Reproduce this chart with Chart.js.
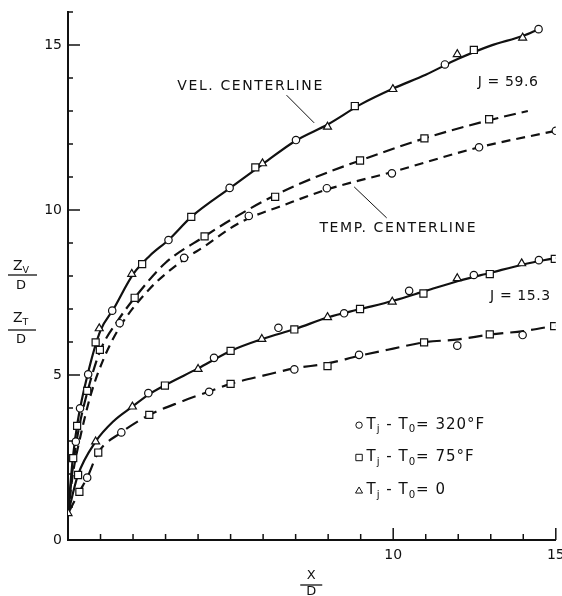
<!DOCTYPE html>
<html>
<head>
<meta charset="utf-8">
<script src="https://cdn.jsdelivr.net/npm/chart.js@4.4.0/dist/chart.umd.min.js"></script>
<style>
  html, body { margin: 0; padding: 0; background: #fff; }
  #wrap { width: 562px; height: 596px; position: relative; }
</style>
</head>
<body>
<div id="wrap"><canvas id="chart"></canvas></div>
<script>
// faired curves (x/D, z/D)
const velHiX = [0, 0.15, 0.3, 0.6, 1.0, 1.4, 2.0, 2.5, 3.1, 3.8, 5.0, 6.0, 7.0, 8.0, 9.0, 10.0, 11.0, 12.0, 13.0, 14.0, 14.47];
const velHiY = [0.8, 2.5, 3.6, 5.0, 6.35, 7.0, 8.05, 8.6, 9.1, 9.8, 10.68, 11.4, 12.1, 12.6, 13.2, 13.68, 14.1, 14.58, 14.98, 15.28, 15.48];
const temp75HiX = [0, 0.15, 0.3, 0.6, 1.0, 1.5, 2.05, 3.0, 4.2, 5.0, 6.37, 7.5, 8.98, 10.96, 12.95, 14.14];
const temp75HiY = [0.8, 2.2, 3.2, 4.5, 5.76, 6.6, 7.34, 8.4, 9.2, 9.7, 10.45, 10.95, 11.5, 12.17, 12.72, 13.0];
const temp320HiX = [0, 0.15, 0.35, 0.7, 1.1, 1.59, 2.5, 3.57, 4.2, 5.0, 5.56, 6.5, 7.96, 9.96, 12.64, 15.0];
const temp320HiY = [0.8, 2.0, 3.0, 4.4, 5.5, 6.45, 7.6, 8.5, 8.9, 9.45, 9.75, 10.1, 10.62, 11.15, 11.9, 12.4];
const velLoX = [0, 0.3, 0.85, 1.4, 1.98, 2.5, 3.0, 4.0, 5.0, 6.0, 7.0, 8.0, 9.0, 10.0, 11.0, 12.0, 13.0, 14.0, 15.0];
const velLoY = [0.8, 1.95, 2.98, 3.6, 4.04, 4.42, 4.7, 5.2, 5.73, 6.1, 6.4, 6.75, 7.0, 7.25, 7.55, 7.85, 8.1, 8.35, 8.55];
const tempLoX = [0, 0.35, 0.59, 0.93, 1.64, 2.5, 3.5, 4.34, 5.0, 6.0, 6.96, 7.98, 8.95, 10.0, 10.95, 12.0, 13.0, 14.0, 15.0];
const tempLoY = [0.8, 1.46, 1.89, 2.65, 3.26, 3.79, 4.2, 4.5, 4.73, 4.98, 5.2, 5.35, 5.58, 5.8, 5.99, 6.08, 6.23, 6.33, 6.5];

// measured points, by symbol
const circleX = [0.24, 0.37, 0.62, 1.36, 3.09, 4.97, 7.01, 11.59, 14.47,
                 1.59, 3.57, 5.56, 7.96, 9.96, 12.64, 15.0,
                 2.47, 4.49, 6.47, 8.49, 10.49, 12.48, 14.48,
                 0.59, 1.64, 4.34, 6.96, 8.95, 11.97, 13.98];
const circleY = [2.98, 3.99, 5.02, 6.95, 9.09, 10.67, 12.12, 14.41, 15.48,
                 6.57, 8.55, 9.82, 10.66, 11.11, 11.9, 12.4,
                 4.45, 5.52, 6.43, 6.87, 7.55, 8.03, 8.48,
                 1.89, 3.26, 4.49, 5.17, 5.61, 5.89, 6.21];
const squareX = [0.16, 0.28, 0.85, 2.28, 3.79, 5.76, 8.82, 12.48,
                 0.59, 0.98, 2.05, 4.2, 6.37, 8.98, 10.96, 12.95,
                 0.31, 2.98, 5.0, 6.96, 8.98, 10.93, 12.97, 14.97,
                 0.35, 0.93, 2.5, 5.0, 7.98, 10.95, 12.97, 14.95];
const squareY = [2.48, 3.46, 5.99, 8.36, 9.79, 11.29, 13.15, 14.85,
                 4.52, 5.76, 7.34, 9.2, 10.4, 11.5, 12.17, 12.75,
                 1.97, 4.68, 5.73, 6.38, 7.0, 7.47, 8.06, 8.52,
                 1.46, 2.65, 3.79, 4.73, 5.27, 5.99, 6.23, 6.48];
const triangleX = [0.96, 1.96, 5.98, 7.98, 9.99, 11.97, 13.98,
                   0, 0.85, 1.98, 4.0, 5.96, 7.98, 9.97, 11.97, 13.95];
const triangleY = [6.41, 8.06, 11.41, 12.52, 13.66, 14.72, 15.22,
                   0.81, 2.98, 4.04, 5.18, 6.09, 6.75, 7.22, 7.93, 8.38];

const yLabels = [0, 5, 10, 15];
const xLabels = [10, 15];

const FONT = '"DejaVu Sans", sans-serif';
const INK = '#111';

function pts(xs, ys) {
    return xs.map((x, i) => ({ x: x, y: ys[i] }));
}

function curve(xs, ys, dash) {
    return {
        type: 'line',
        data: pts(xs, ys),
        borderColor: INK,
        borderWidth: 2.2,
        borderDash: dash,
        pointRadius: 0,
        fill: false,
        cubicInterpolationMode: 'monotone',
        order: 2
    };
}

function marks(xs, ys, style, r) {
    return {
        type: 'scatter',
        data: pts(xs, ys),
        pointStyle: style,
        pointRadius: r,
        pointBackgroundColor: '#fff',
        pointBorderColor: INK,
        pointBorderWidth: 1.2,
        showLine: false,
        order: 1
    };
}

// little helpers for the hand-lettered annotations
function richText(ctx, parts, x, y, size) {
    let cx = x;
    parts.forEach(p => {
        const s = p[1] ? size * 0.68 : size;
        ctx.font = s + 'px ' + FONT;
        ctx.fillText(p[0], cx, p[1] ? y + size * 0.3 : y);
        cx += ctx.measureText(p[0]).width;
    });
    return cx - x;
}

function symbol(ctx, style, x, y, r) {
    ctx.beginPath();
    if (style === 'circle') {
        ctx.arc(x, y, r, 0, Math.PI * 2);
    } else if (style === 'rect') {
        ctx.rect(x - r, y - r, 2 * r, 2 * r);
    } else {
        ctx.moveTo(x, y - r * 1.1);
        ctx.lineTo(x + r * 1.1, y + r * 0.8);
        ctx.lineTo(x - r * 1.1, y + r * 0.8);
        ctx.closePath();
    }
    ctx.fillStyle = '#fff';
    ctx.fill();
    ctx.stroke();
}

// kill the label overhang padding so the plot box matches the figure
function noPad(s) {
    s.paddingLeft = 0;
    s.paddingRight = 0;
    s.paddingTop = 0;
    s.paddingBottom = 0;
}

const decor = {
    id: 'decor',
    afterDatasetsDraw(chart) {
        const ctx = chart.ctx;
        const xs = chart.scales.x;
        const ys = chart.scales.y;
        const area = chart.chartArea;
        const px = v => xs.getPixelForValue(v);
        const py = v => ys.getPixelForValue(v);

        ctx.save();
        ctx.strokeStyle = INK;
        ctx.fillStyle = INK;

        // inside tick marks
        ctx.lineWidth = 1.5;
        for (let v = 0; v <= 16; v++) {
            const len = v % 5 === 0 ? 12 : 5;
            ctx.beginPath();
            ctx.moveTo(area.left, py(v));
            ctx.lineTo(area.left + len, py(v));
            ctx.stroke();
        }
        for (let v = 1; v <= 15; v++) {
            const len = v % 5 === 0 && v !== 5 ? 12 : 6;
            ctx.beginPath();
            ctx.moveTo(px(v), area.bottom);
            ctx.lineTo(px(v), area.bottom - len);
            ctx.stroke();
        }

        // curve labels
        ctx.textBaseline = 'middle';
        ctx.textAlign = 'left';
        ctx.font = '14px ' + FONT;
        ctx.letterSpacing = '1.6px';
        ctx.fillText('VEL. CENTERLINE', px(3.36), py(13.76));
        ctx.fillText('TEMP. CENTERLINE', px(7.73), py(9.45));
        ctx.letterSpacing = '0.6px';
        ctx.fillText('J = 59.6', px(12.6), py(13.88));
        ctx.fillText('J = 15.3', px(12.98), py(7.39));
        ctx.letterSpacing = '0px';

        // leader lines
        ctx.lineWidth = 1;
        ctx.beginPath();
        ctx.moveTo(px(6.72), py(13.48));
        ctx.lineTo(px(7.57), py(12.64));
        ctx.moveTo(px(8.8), py(10.7));
        ctx.lineTo(px(9.8), py(9.76));
        ctx.stroke();

        // key
        const keyRows = [
            ['circle', 3.48, [['T', 0], ['j', 1], [' - T', 0], ['0', 1], ['= 320°F', 0]]],
            ['rect', 2.5, [['T', 0], ['j', 1], [' - T', 0], ['0', 1], ['= 75°F', 0]]],
            ['triangle', 1.5, [['T', 0], ['j', 1], [' - T', 0], ['0', 1], ['= 0', 0]]]
        ];
        keyRows.forEach(row => {
            ctx.lineWidth = 1;
            symbol(ctx, row[0], px(8.95), py(row[1]), 3.2);
            ctx.fillStyle = INK;
            ctx.letterSpacing = '1px';
            richText(ctx, row[2], px(9.18), py(row[1]), 15);
            ctx.letterSpacing = '0px';
        });

        // axis titles as stacked fractions
        ctx.lineWidth = 1.3;
        ctx.textAlign = 'left';
        ctx.fillStyle = INK;
        richText(ctx, [['Z', 0], ['V', 1]], 13, 266, 14);
        ctx.beginPath(); ctx.moveTo(8, 275); ctx.lineTo(37, 275); ctx.stroke();
        ctx.font = '13px ' + FONT;
        ctx.fillText('D', 16, 286);
        richText(ctx, [['Z', 0], ['T', 1]], 13, 318, 14);
        ctx.beginPath(); ctx.moveTo(8, 330); ctx.lineTo(36, 330); ctx.stroke();
        ctx.font = '13px ' + FONT;
        ctx.fillText('D', 16, 340);

        ctx.textAlign = 'center';
        const cx = px(7.48);
        ctx.fillText('X', cx, area.bottom + 36);
        ctx.beginPath(); ctx.moveTo(cx - 11, area.bottom + 45); ctx.lineTo(cx + 11, area.bottom + 45); ctx.stroke();
        ctx.fillText('D', cx, area.bottom + 52);
        ctx.restore();
    }
};

new Chart(document.getElementById('chart'), {
    type: 'scatter',
    data: {
        datasets: [
            marks(circleX, circleY, 'circle', 3.7),
            marks(squareX, squareY, 'rect', 5),
            marks(triangleX, triangleY, 'triangle', 4.6),
            curve(velHiX, velHiY, []),
            curve(temp75HiX, temp75HiY, [12, 6]),
            curve(temp320HiX, temp320HiY, [9, 6]),
            curve(velLoX, velLoY, []),
            curve(tempLoX, tempLoY, [14, 7])
        ]
    },
    options: {
        responsive: true,
        maintainAspectRatio: false,
        animation: false,
        layout: { padding: { top: 12, right: 2, left: 0, bottom: 0 } },
        plugins: {
            legend: { display: false },
            tooltip: { enabled: false }
        },
        scales: {
            x: {
                type: 'linear',
                min: 0,
                max: 15,
                grid: { display: false, drawTicks: false },
                border: { display: true, color: INK, width: 2 },
                ticks: {
                    stepSize: 1,
                    autoSkip: false,
                    maxRotation: 0,
                    padding: 7,
                    color: INK,
                    font: { family: FONT, size: 14 },
                    callback: v => xLabels.includes(v) ? String(v) : ''
                },
                afterFit: s => { s.height = 56; noPad(s); }
            },
            y: {
                type: 'linear',
                min: 0,
                max: 16,
                grid: { display: false, drawTicks: false },
                border: { display: true, color: INK, width: 2 },
                ticks: {
                    stepSize: 1,
                    autoSkip: false,
                    padding: 6,
                    color: INK,
                    font: { family: FONT, size: 14 },
                    callback: v => yLabels.includes(v) ? String(v) : ''
                },
                afterFit: s => { s.width = 68; noPad(s); }
            }
        }
    },
    plugins: [decor]
});
</script>
</body>
</html>
